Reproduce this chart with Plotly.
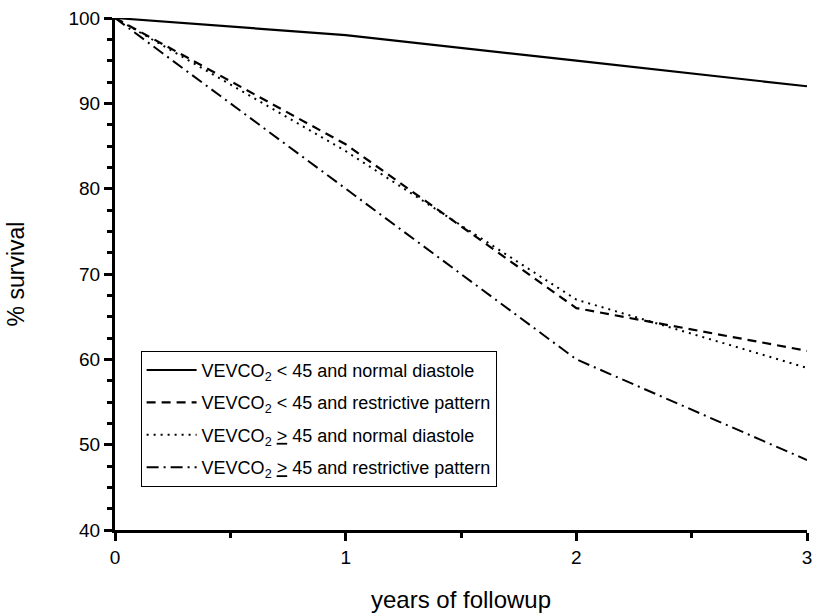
import plotly.graph_objects as go

years = [0, 1, 2, 3]
normal_lt45 = [100, 98, 95, 92]
restrictive_lt45 = [100, 85.2, 66, 61]
normal_ge45 = [100, 84.4, 67, 59]
restrictive_ge45 = [100, 80, 60, 48.2]

names = [
    "VEVCO<sub>2</sub> &lt; 45 and normal diastole",
    "VEVCO<sub>2</sub> &lt; 45 and restrictive pattern",
    "VEVCO<sub>2</sub> <u>&gt;</u> 45 and normal diastole",
    "VEVCO<sub>2</sub> <u>&gt;</u> 45 and restrictive pattern",
]
series = [normal_lt45, restrictive_lt45, normal_ge45, restrictive_ge45]
dashes = ["solid", "9px,6px", "2px,5px", "12px,5px,2px,5px"]
widths = [2.2, 2.2, 2, 2]

fig = go.Figure()
for i, (n, s, d, w) in enumerate(zip(names, series, dashes, widths)):
    fig.add_trace(go.Scatter(x=years, y=s, mode="lines", name=n, legendgroup=f"g{i}",
                             line=dict(color="black", width=w, dash=d)))

fig.update_layout(
    width=815, height=614,
    margin=dict(l=115, r=8, t=18, b=84),
    paper_bgcolor="white", plot_bgcolor="white",
    font=dict(family="Liberation Sans, Arial", color="black", size=19),
    showlegend=True,
    legend=dict(x=0.037, y=0.35, xanchor="left", yanchor="top",
                bordercolor="black", borderwidth=1, bgcolor="white",
                font=dict(size=18), itemwidth=50, tracegroupgap=6,
                traceorder="grouped"),
    xaxis=dict(range=[0, 3], showline=True, linecolor="black", linewidth=3,
               ticks="outside", ticklen=8, tickwidth=3, tickcolor="black",
               tickvals=[0, 1, 2, 3], showgrid=False, zeroline=False, automargin=False,
               minor=dict(tickvals=[0.5, 1.5, 2.5], ticks="outside", ticklen=5, tickwidth=3, tickcolor="black"),
               title=dict(text="years of followup", font=dict(size=24), standoff=25)),
    yaxis=dict(range=[40, 100], showline=True, linecolor="black", linewidth=3,
               ticks="outside", ticklen=8, tickwidth=3, tickcolor="black",
               tickvals=[40, 50, 60, 70, 80, 90, 100], showgrid=False, zeroline=False, automargin=False,
               minor=dict(dtick=2.5, ticks="outside", ticklen=5, tickwidth=3, tickcolor="black"),
               title=dict(text="% survival", font=dict(size=23), standoff=38)),
)

fig.write_html("out.html")
